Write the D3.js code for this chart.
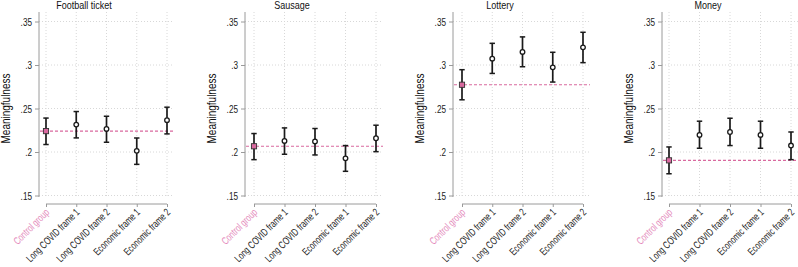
<!DOCTYPE html>
<html><head><meta charset="utf-8">
<script src="https://cdn.jsdelivr.net/npm/d3@7"></script>
<style>
html,body{margin:0;padding:0;background:#fff;}
text{font-family:"Liberation Sans",Arial,sans-serif;}
</style></head>
<body><svg id="c" width="798" height="267"></svg>
<script>
const categories = ["Control group","Long COVID frame 1","Long COVID frame 2","Economic frame 1","Economic frame 2"];
const panelTitles = ["Football ticket","Sausage","Lottery","Money"];
const yTicks = [0.15,0.2,0.25,0.3,0.35];
const yTickLabels = [".15",".2",".25",".3",".35"];

const footballMean = [0.2240,0.2315,0.2265,0.2013,0.2366];
const footballLo   = [0.2086,0.2162,0.2112,0.1858,0.2208];
const footballHi   = [0.2390,0.2465,0.2411,0.2161,0.2515];

const sausageMean = [0.2066,0.2127,0.2121,0.1927,0.2158];
const sausageLo   = [0.1912,0.1974,0.1966,0.1778,0.2004];
const sausageHi   = [0.2212,0.2277,0.2270,0.2074,0.2308];

const lotteryMean = [0.2773,0.3073,0.3150,0.2973,0.3203];
const lotteryLo   = [0.2600,0.2903,0.2980,0.2804,0.3027];
const lotteryHi   = [0.2946,0.3249,0.3323,0.3146,0.3376];

const moneyMean = [0.1904,0.2196,0.2230,0.2196,0.2074];
const moneyLo   = [0.1750,0.2043,0.2074,0.2043,0.1912];
const moneyHi   = [0.2058,0.2354,0.2388,0.2354,0.2230];

const panelData = [
  {title: panelTitles[0], mean: footballMean, lo: footballLo, hi: footballHi},
  {title: panelTitles[1], mean: sausageMean, lo: sausageLo, hi: sausageHi},
  {title: panelTitles[2], mean: lotteryMean, lo: lotteryLo, hi: lotteryHi},
  {title: panelTitles[3], mean: moneyMean, lo: moneyLo, hi: moneyHi}
];

// layout
const axisX = [39, 245, 453, 662];
const firstCat = [46, 254, 462, 669];
const lastCat = [167, 376, 583, 791];
const titleCX = [84, 292, 500, 708];
const plotTop = 12, plotBottom = 197, xAxisY = 204;

const pink = "#d9699f";
const pinkLabel = "#e48abb";
const dark = "#1a1a1a";
const axisCol = "#9a9a9a";
const gridCol = "#d8d8d8";

const svg = d3.select("#c");
const y = d3.scaleLinear().domain([0.15,0.35]).range([195.5,21.5]);

panelData.forEach((p,i)=>{
  const g = svg.append("g");
  const x = d3.scalePoint().domain(categories).range([firstCat[i], lastCat[i]]);
  const right = lastCat[i] + 7;
  // grid horizontal
  g.selectAll(".hg").data(yTicks).join("line")
    .attr("x1", axisX[i]).attr("x2", right)
    .attr("y1", d=>y(d)).attr("y2", d=>y(d))
    .attr("stroke", gridCol).attr("stroke-width",1).attr("stroke-dasharray","1,2");
  // grid vertical
  g.selectAll(".vg").data(categories).join("line")
    .attr("x1", d=>x(d)).attr("x2", d=>x(d))
    .attr("y1", plotTop).attr("y2", plotBottom)
    .attr("stroke", gridCol).attr("stroke-width",1).attr("stroke-dasharray","1,2");
  // y axis
  const yAxis = d3.axisLeft(y).tickValues(yTicks).tickFormat((d,k)=>yTickLabels[k]).tickSize(4).tickPadding(3);
  const ya = g.append("g").attr("transform",`translate(${axisX[i]},0)`).call(yAxis);
  ya.select(".domain").remove();
  ya.append("line").attr("x1",0).attr("x2",0).attr("y1",plotTop).attr("y2",plotBottom).attr("stroke",axisCol);
  ya.selectAll(".tick line").attr("stroke",axisCol);
  ya.selectAll(".tick text").attr("fill","#222").attr("font-size","10.5px")
    .attr("font-family","Liberation Sans, Arial, sans-serif")
    .attr("x",null).attr("dy",null).attr("y",3.8)
    .attr("transform","translate(-7,0) scale(0.78,1)");
  // x axis
  const xAxis = d3.axisBottom(x).tickSize(3).tickFormat(d=>d);
  const xa = g.append("g").attr("transform",`translate(0,${xAxisY})`).call(xAxis);
  xa.select(".domain").attr("d", `M${firstCat[i]},0H${lastCat[i]}`).attr("stroke",axisCol);
  xa.selectAll(".tick line").attr("stroke",axisCol);
  xa.selectAll(".tick text")
    .attr("font-size","10.5px").attr("font-family","Liberation Sans, Arial, sans-serif")
    .attr("fill",(d,k)=> k===0 ? pinkLabel : "#222")
    .attr("text-anchor","end")
    .attr("dy",null).attr("y",0)
    .attr("transform","translate(3.5,9) rotate(-45) scale(0.72,1)");
  // y label
  g.append("text").attr("transform",`translate(${axisX[i]-29},${(plotTop+plotBottom)/2+4}) rotate(-90) scale(0.8,1)`)
    .attr("text-anchor","middle").attr("font-size","12.5px").attr("fill","#111").text("Meaningfulness");
  // title
  g.append("text").attr("transform",`translate(${titleCX[i]},9) scale(0.82,1)`).attr("text-anchor","middle")
    .attr("font-size","11px").attr("fill","#111").text(p.title);
  // control reference line
  g.append("line").attr("x1", axisX[i]+1).attr("x2", right)
    .attr("y1", y(p.mean[0])).attr("y2", y(p.mean[0]))
    .attr("stroke", pink).attr("stroke-width",1.1).attr("stroke-dasharray","3,2");
  // error bars
  const idx = d3.range(categories.length);
  g.selectAll(".eb").data(idx).join("line")
    .attr("x1", k=>x(categories[k])).attr("x2", k=>x(categories[k]))
    .attr("y1", k=>y(p.lo[k])).attr("y2", k=>y(p.hi[k]))
    .attr("stroke", dark).attr("stroke-width",1.7);
  g.selectAll(".ct").data(idx).join("line")
    .attr("x1", k=>x(categories[k])-2.7).attr("x2", k=>x(categories[k])+2.7)
    .attr("y1", k=>y(p.hi[k])).attr("y2", k=>y(p.hi[k]))
    .attr("stroke", dark).attr("stroke-width",1.5);
  g.selectAll(".cb").data(idx).join("line")
    .attr("x1", k=>x(categories[k])-2.7).attr("x2", k=>x(categories[k])+2.7)
    .attr("y1", k=>y(p.lo[k])).attr("y2", k=>y(p.lo[k]))
    .attr("stroke", dark).attr("stroke-width",1.5);
  // markers
  g.selectAll(".pt").data(idx.slice(1)).join("circle")
    .attr("cx", k=>x(categories[k])).attr("cy", k=>y(p.mean[k])).attr("r",2.3)
    .attr("fill","#fff").attr("stroke",dark).attr("stroke-width",1.3);
  g.append("rect").attr("x", x(categories[0])-2.6).attr("y", y(p.mean[0])-2.6)
    .attr("width",5.2).attr("height",5.2).attr("fill",pink).attr("stroke","#333").attr("stroke-width",0.9);
});
</script>
</body></html>
